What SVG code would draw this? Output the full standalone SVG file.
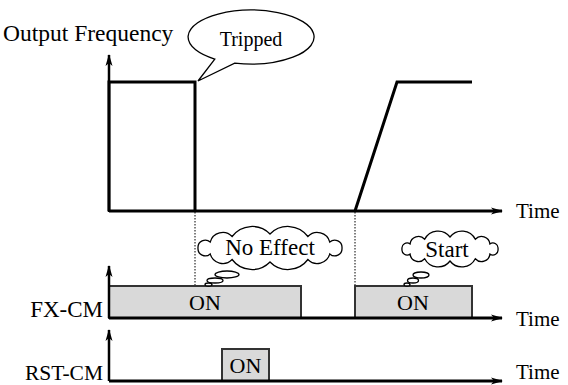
<svg xmlns="http://www.w3.org/2000/svg" width="568" height="385" viewBox="0 0 568 385">
<defs>
<marker id="ah" viewBox="0 0 12 8" refX="11" refY="4" markerWidth="12" markerHeight="8" markerUnits="userSpaceOnUse" orient="auto">
<path d="M0,0.5 L12,4 L0,7.5 L3,4 Z" fill="#000"/>
</marker>
<style>
text{font-family:"Liberation Serif","Times New Roman",serif;fill:#000}
.lbl{font-size:23px}
.on{font-size:22px;text-anchor:middle}
.ax{stroke:#000;stroke-width:3;fill:none}
.vax{stroke:#000;stroke-width:2.5;fill:none}
.sig{stroke:#000;stroke-width:3;fill:none;stroke-linejoin:miter}
.box{fill:#d9d9d9;stroke:#333;stroke-width:2}
.dot{stroke:#000;stroke-width:1;stroke-dasharray:1.5 1.5;fill:none}
.call{fill:#fff;stroke:#000;stroke-width:1.3}
</style>
</defs>
<g id="connectors">
<line class="dot" x1="195" y1="212" x2="195" y2="286"/>
<line class="dot" x1="355" y1="212" x2="355" y2="286"/>
</g>
<g id="freq-chart">
<text class="lbl" x="3" y="41" style="font-size:23.5px">Output Frequency</text>
<line class="vax" x1="109" y1="212" x2="109" y2="55" marker-end="url(#ah)"/>
<line class="ax" x1="109" y1="211" x2="502" y2="211" marker-end="url(#ah)"/>
<path class="sig" d="M109,211 V82 H195 V211"/>
<path class="sig" d="M355,211 L397,82 H472"/>
<text x="516" y="218" style="font-size:21px">Time</text>
</g>
<g id="tripped">
<path class="call" d="M214.8,59.1 L198,81 L234.7,63.1 A63,27 0 1 0 214.8,59.1 Z"/>
<text x="251" y="46" style="font-size:20px;text-anchor:middle">Tripped</text>
</g>
<g id="fx-chart">
<rect class="box" x="109" y="286" width="192" height="32"/>
<rect class="box" x="355" y="286" width="117" height="32"/>
<line class="vax" x1="109" y1="318" x2="109" y2="266" marker-end="url(#ah)"/>
<line class="ax" x1="109" y1="318" x2="502" y2="318" marker-end="url(#ah)"/>
<text class="on" x="205" y="310">ON</text>
<text class="on" x="413" y="310">ON</text>
<text class="lbl" x="103" y="317" style="text-anchor:end">FX-CM</text>
<text x="516" y="326" style="font-size:21px">Time</text>
</g>
<g id="no-effect">
<path class="call" d="M342,248 A7.3,7.3 0 0 1 329.8,253.9 A13,13 0 0 1 307.9,259.5 A25,25 0 0 1 270,262 A25,25 0 0 1 232.1,259.5 A13,13 0 0 1 210.2,253.9 A7.3,7.3 0 0 1 198,248 A7.3,7.3 0 0 1 210.2,242.1 A13,13 0 0 1 232.1,236.5 A25,25 0 0 1 270,234 A25,25 0 0 1 307.9,236.5 A13,13 0 0 1 329.8,242.1 A7.3,7.3 0 0 1 342,248 Z"/>
<ellipse class="call" cx="227" cy="274.5" rx="12" ry="3.5"/>
<ellipse class="call" cx="215" cy="280.5" rx="8" ry="2.5"/>
<ellipse class="call" cx="208.5" cy="284.5" rx="3.5" ry="1.5"/>
<text x="270" y="255" style="font-size:23px;text-anchor:middle">No Effect</text>
</g>
<g id="start">
<path class="call" d="M498,249 A5.2,5.2 0 0 1 489.9,254.1 A8.4,8.4 0 0 1 475.3,258.8 A15,15 0 0 1 450,261 A15,15 0 0 1 424.7,258.8 A8.4,8.4 0 0 1 410.1,254.1 A5.2,5.2 0 0 1 402,249 A5.2,5.2 0 0 1 410.1,243.9 A8.4,8.4 0 0 1 424.7,239.2 A15,15 0 0 1 450,237 A15,15 0 0 1 475.3,239.2 A8.4,8.4 0 0 1 489.9,243.9 A5.2,5.2 0 0 1 498,249 Z"/>
<ellipse class="call" cx="421" cy="275" rx="8" ry="3"/>
<ellipse class="call" cx="413" cy="280.5" rx="5.5" ry="2.5"/>
<ellipse class="call" cx="407" cy="284.5" rx="3" ry="1.5"/>
<text x="447" y="257" style="font-size:23px;text-anchor:middle">Start</text>
</g>
<g id="rst-chart">
<rect class="box" x="222" y="349" width="47" height="32"/>
<line class="vax" x1="109" y1="381" x2="109" y2="330" marker-end="url(#ah)"/>
<line class="ax" x1="109" y1="381" x2="502" y2="381" marker-end="url(#ah)"/>
<text class="on" x="245.5" y="373">ON</text>
<text x="103" y="380" style="font-size:21.5px;text-anchor:end">RST-CM</text>
<text x="516" y="379" style="font-size:21px">Time</text>
</g>
</svg>
